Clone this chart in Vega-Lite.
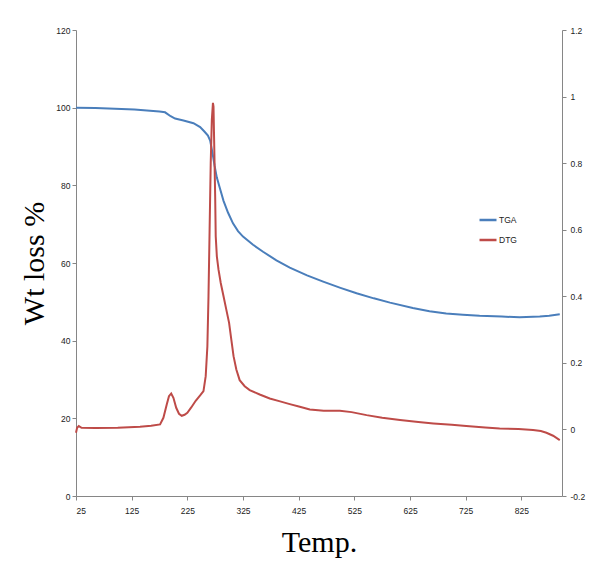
{
  "$schema": "https://vega.github.io/schema/vega-lite/v6.json",
  "width": 486,
  "height": 466,
  "autosize": {"type": "none"},
  "padding": {"left": 76, "top": 30, "right": 51, "bottom": 75},
  "background": "white",
  "config": {
    "view": {"stroke": null},
    "axis": {
      "grid": false,
      "domainColor": "#868686",
      "tickColor": "#868686",
      "labelFont": "Liberation Sans",
      "labelFontSize": 8.5,
      "labelColor": "#222222",
      "tickSize": 4
    },
    "legend": {"labelFont": "Liberation Sans", "labelFontSize": 8.5, "labelColor": "#222222"}
  },
  "datasets": {
    "tga": [
      {"T": 25, "wt": 100.0}, {"T": 60, "wt": 99.9}, {"T": 95, "wt": 99.7}, {"T": 130, "wt": 99.5},
      {"T": 158, "wt": 99.2}, {"T": 175, "wt": 99.0}, {"T": 185, "wt": 98.8}, {"T": 195, "wt": 97.8},
      {"T": 203, "wt": 97.2}, {"T": 218, "wt": 96.7}, {"T": 236, "wt": 96.0}, {"T": 248, "wt": 95.0},
      {"T": 256, "wt": 93.8}, {"T": 262, "wt": 92.8}, {"T": 266, "wt": 91.5}, {"T": 270, "wt": 88.5},
      {"T": 274, "wt": 85.0}, {"T": 278, "wt": 82.0}, {"T": 284, "wt": 79.0}, {"T": 290, "wt": 76.0},
      {"T": 298, "wt": 73.0}, {"T": 307, "wt": 70.2}, {"T": 316, "wt": 68.2}, {"T": 325, "wt": 66.8},
      {"T": 343, "wt": 64.7}, {"T": 361, "wt": 62.9}, {"T": 385, "wt": 60.7}, {"T": 409, "wt": 58.8},
      {"T": 440, "wt": 56.8}, {"T": 469, "wt": 55.2}, {"T": 500, "wt": 53.6}, {"T": 529, "wt": 52.2},
      {"T": 560, "wt": 50.9}, {"T": 589, "wt": 49.8}, {"T": 630, "wt": 48.4}, {"T": 660, "wt": 47.6},
      {"T": 690, "wt": 47.0}, {"T": 720, "wt": 46.7}, {"T": 750, "wt": 46.4}, {"T": 790, "wt": 46.2},
      {"T": 822, "wt": 46.0}, {"T": 858, "wt": 46.2}, {"T": 875, "wt": 46.4}, {"T": 894, "wt": 46.8}
    ],
    "dtg": [
      {"T": 25, "d": -0.01}, {"T": 27, "d": 0.005}, {"T": 30, "d": 0.01}, {"T": 35, "d": 0.005},
      {"T": 60, "d": 0.004}, {"T": 100, "d": 0.005}, {"T": 140, "d": 0.008}, {"T": 160, "d": 0.011},
      {"T": 176, "d": 0.015}, {"T": 182, "d": 0.035}, {"T": 188, "d": 0.075}, {"T": 192, "d": 0.1},
      {"T": 196, "d": 0.108}, {"T": 200, "d": 0.095}, {"T": 205, "d": 0.065}, {"T": 210, "d": 0.047},
      {"T": 215, "d": 0.041}, {"T": 220, "d": 0.044}, {"T": 225, "d": 0.05}, {"T": 232, "d": 0.066},
      {"T": 240, "d": 0.086}, {"T": 248, "d": 0.102}, {"T": 254, "d": 0.115}, {"T": 258, "d": 0.16},
      {"T": 261, "d": 0.25}, {"T": 263, "d": 0.4}, {"T": 265, "d": 0.6}, {"T": 267, "d": 0.8},
      {"T": 269, "d": 0.93}, {"T": 271, "d": 0.981}, {"T": 272, "d": 0.97}, {"T": 273, "d": 0.88},
      {"T": 275, "d": 0.7}, {"T": 276, "d": 0.58}, {"T": 278, "d": 0.52}, {"T": 281, "d": 0.48},
      {"T": 285, "d": 0.44}, {"T": 290, "d": 0.4}, {"T": 295, "d": 0.36}, {"T": 300, "d": 0.32},
      {"T": 304, "d": 0.27}, {"T": 308, "d": 0.22}, {"T": 313, "d": 0.18}, {"T": 319, "d": 0.148},
      {"T": 328, "d": 0.13}, {"T": 337, "d": 0.118}, {"T": 355, "d": 0.105}, {"T": 373, "d": 0.093},
      {"T": 390, "d": 0.085}, {"T": 409, "d": 0.076}, {"T": 427, "d": 0.068}, {"T": 445, "d": 0.06},
      {"T": 470, "d": 0.056}, {"T": 499, "d": 0.056}, {"T": 520, "d": 0.052}, {"T": 547, "d": 0.043},
      {"T": 575, "d": 0.035}, {"T": 607, "d": 0.028}, {"T": 640, "d": 0.022}, {"T": 667, "d": 0.018},
      {"T": 700, "d": 0.014}, {"T": 726, "d": 0.01}, {"T": 760, "d": 0.006}, {"T": 786, "d": 0.003},
      {"T": 820, "d": 0.001}, {"T": 846, "d": -0.002}, {"T": 860, "d": -0.005}, {"T": 870, "d": -0.01},
      {"T": 882, "d": -0.019}, {"T": 894, "d": -0.032}
    ]
  },
  "encoding": {
    "x": {
      "field": "T",
      "type": "quantitative",
      "scale": {"domain": [25, 898], "nice": false, "zero": false},
      "axis": {
        "values": [25, 125, 225, 325, 425, 525, 625, 725, 825],
        "title": "Temp.",
        "titleFont": "Liberation Serif",
        "titleFontSize": 30,
        "titleFontWeight": "normal",
        "titleColor": "black",
        "titlePadding": 13,
        "labelPadding": 6
      }
    }
  },
  "layer": [
    {
      "data": {"name": "tga"},
      "mark": {"type": "line", "strokeWidth": 2},
      "encoding": {
        "y": {
          "field": "wt",
          "type": "quantitative",
          "scale": {"domain": [0, 120], "nice": false},
          "axis": {
            "values": [0, 20, 40, 60, 80, 100, 120],
            "title": "Wt loss %",
            "titleFont": "Liberation Serif",
            "titleFontSize": 30,
            "titleFontWeight": "normal",
            "titleColor": "black",
            "titlePadding": 6,
            "labelPadding": 2
          }
        },
        "color": {
          "datum": "TGA",
          "type": "nominal",
          "scale": {"domain": ["TGA", "DTG"], "range": ["#4a7ebb", "#be4b48"]},
          "legend": {
            "title": null,
            "orient": "none",
            "legendX": 402,
            "legendY": 180,
            "symbolType": "stroke",
            "symbolSize": 289,
            "symbolStrokeWidth": 2.5,
            "labelOffset": 1,
            "rowPadding": 5
          }
        }
      }
    },
    {
      "data": {"name": "dtg"},
      "mark": {"type": "line", "strokeWidth": 2},
      "encoding": {
        "y": {
          "field": "d",
          "type": "quantitative",
          "scale": {"domain": [-0.2, 1.2], "nice": false, "zero": false},
          "axis": {
            "orient": "right",
            "values": [-0.2, 0, 0.2, 0.4, 0.6, 0.8, 1, 1.2],
            "labelExpr": "'' + datum.value",
            "title": null,
            "labelPadding": 4
          }
        },
        "color": {"datum": "DTG", "type": "nominal"}
      }
    }
  ],
  "resolve": {"scale": {"y": "independent"}, "axis": {"y": "independent"}}
}
